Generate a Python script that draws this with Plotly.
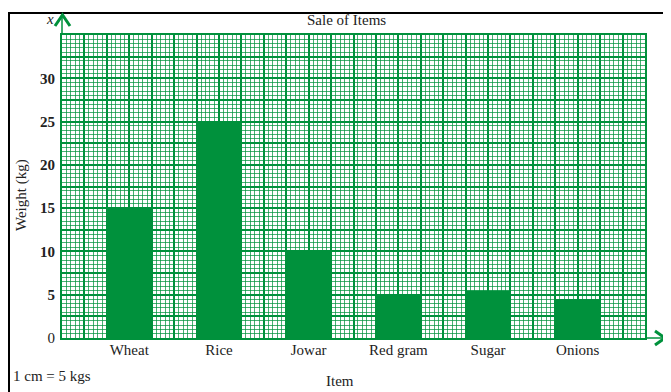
import plotly.graph_objects as go

# ---- data ----
items = ["Wheat", "Rice", "Jowar", "Red gram", "Sugar", "Onions"]
weights = [15, 25, 10, 5, 5.5, 4.5]
y_tick_labels = ["0", "5", "10", "15", "20", "25", "30"]

GREEN = "#00913c"
FONT = "Liberation Serif"

# the page adds an 8px body margin; compensate so page pixels match
OFF = 8
W, H = 671 - OFF, 392 - OFF
L, R, T, B = 62 - OFF, 26, 35 - OFF, 54
PW, PH = W - L - R, H - T - B


def px(xp):
    # xp given in page pixels
    return (xp - OFF - L) / PW


def py(yp):
    return (H - B - (yp - OFF)) / PH


# x axis: categories at 0..n-1, squares every 0.25
n = len(items)
x0, x1 = -0.75, n - 1 + 0.75
nsq = int(round((x1 - x0) / 0.25))
xtickvals = [x0 + 0.25 * k for k in range(nsq + 1)]
xticktext = []
for v in xtickvals:
    if abs(v - round(v)) < 1e-9 and 0 <= round(v) < n:
        xticktext.append(items[int(round(v))])
    else:
        xticktext.append("")

# y axis: squares every 2.5, labels every 5
ytickvals = [2.5 * k for k in range(15)]
yticktext = []
for v in ytickvals:
    s = ("%g" % v)
    if s in y_tick_labels:
        yticktext.append(s if s == "0" else "<b>%s</b>" % s)
    else:
        yticktext.append("")

MINOR = "rgba(0,145,60,0.72)"

fig = go.Figure()
fig.add_trace(go.Bar(
    x=list(range(n)), y=weights, width=0.5,
    marker=dict(color=GREEN, line=dict(width=0)),
    hoverinfo="skip",
))

fig.update_layout(
    width=W, height=H,
    margin=dict(l=L, r=R, t=T, b=B, pad=0),
    paper_bgcolor="white", plot_bgcolor="white",
    showlegend=False,
    font=dict(family=FONT, size=15, color="#222222"),
    xaxis=dict(
        range=[x0, x1], tickmode="array", tickvals=xtickvals, ticktext=xticktext,
        showgrid=True, gridcolor=GREEN, gridwidth=2,
        minor=dict(dtick=0.05, tick0=x0, showgrid=True,
                   gridcolor=MINOR, gridwidth=1, ticks=""),
        ticks="", ticklabelstandoff=-3,
        showline=True, linecolor=GREEN, linewidth=2, mirror=True,
        zeroline=False, fixedrange=True,
        tickfont=dict(family=FONT, size=15, color="#222222"),
    ),
    yaxis=dict(
        range=[0, 35], tickmode="array", tickvals=ytickvals, ticktext=yticktext,
        showgrid=True, gridcolor=GREEN, gridwidth=2,
        minor=dict(dtick=0.5, tick0=0, showgrid=True,
                   gridcolor=MINOR, gridwidth=1, ticks=""),
        ticks="", ticklabelstandoff=2,
        showline=True, linecolor=GREEN, linewidth=2, mirror=True,
        zeroline=False, fixedrange=True,
        tickfont=dict(family=FONT, size=15, color="#222222"),
    ),
)

shapes = []
# outer black frame
shapes.append(dict(type="rect", xref="paper", yref="paper",
                   x0=px(9), x1=px(690), y0=py(410), y1=py(13),
                   line=dict(color="black", width=2), fillcolor="rgba(0,0,0,0)", layer="above"))
# y-axis arrow
shapes.append(dict(type="line", xref="paper", yref="paper",
                   x0=px(62), x1=px(62), y0=py(35), y1=py(16),
                   line=dict(color=GREEN, width=1.5)))
shapes.append(dict(type="path", xref="paper", yref="paper",
                   path="M %f %f L %f %f L %f %f" % (px(55), py(26), px(62.5), py(15), px(70), py(26)),
                   line=dict(color=GREEN, width=3)))
# x-axis arrow
shapes.append(dict(type="line", xref="paper", yref="paper",
                   x0=px(645), x1=px(664), y0=py(338), y1=py(338),
                   line=dict(color=GREEN, width=1.5)))
shapes.append(dict(type="path", xref="paper", yref="paper",
                   path="M %f %f L %f %f L %f %f" % (px(655), py(331), px(665), py(338), px(655), py(345)),
                   line=dict(color=GREEN, width=3)))
fig.update_layout(shapes=shapes)

ann = [
    dict(text="Sale of Items", x=px(346), y=py(20), xanchor="center", yanchor="middle"),
    dict(text="<i>x</i>", x=px(50), y=py(19), xanchor="center", yanchor="middle"),
    dict(text="<i>y</i>", x=px(667), y=py(342), xanchor="left", yanchor="middle"),
    dict(text="Weight (kg)", x=px(22), y=py(195), xanchor="center", yanchor="middle", textangle=-90),
    dict(text="Item", x=px(340), y=py(381), xanchor="center", yanchor="middle"),
    dict(text="1 cm = 5 kgs", x=px(11), y=py(376), xanchor="left", yanchor="middle"),
]
for a in ann:
    a.update(xref="paper", yref="paper", showarrow=False,
             font=dict(family=FONT, size=15, color="#222222"))
fig.update_layout(annotations=ann)

fig.write_html("out.html")
